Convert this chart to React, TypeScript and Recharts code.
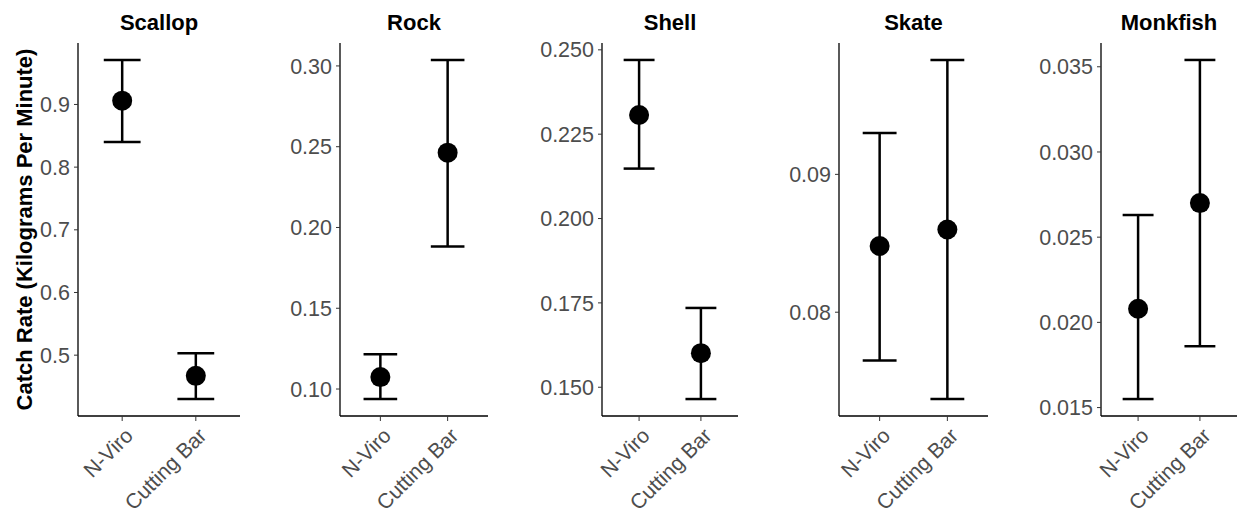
import React from 'react';
import { ScatterChart, Scatter, XAxis, YAxis, ErrorBar, Label } from 'recharts';

const treatments = ['N-Viro', 'Cutting Bar'];
const speciesNames = ['Scallop', 'Rock', 'Shell', 'Skate', 'Monkfish'];

// mean catch rate and interval ends, per treatment (N-Viro, Cutting Bar)
const scallopMean = [0.906, 0.467];
const scallopLower = [0.84, 0.43];
const scallopUpper = [0.971, 0.503];

const rockMean = [0.1074, 0.2463];
const rockLower = [0.0938, 0.1883];
const rockUpper = [0.1216, 0.3037];

const shellMean = [0.2307, 0.1601];
const shellLower = [0.2148, 0.1465];
const shellUpper = [0.247, 0.1735];

const skateMean = [0.0848, 0.086];
const skateLower = [0.0765, 0.0737];
const skateUpper = [0.093, 0.0983];

const monkfishMean = [0.0208, 0.027];
const monkfishLower = [0.0155, 0.0186];
const monkfishUpper = [0.0263, 0.0354];

const scallopTicks = [0.5, 0.6, 0.7, 0.8, 0.9];
const rockTicks = [0.1, 0.15, 0.2, 0.25, 0.3];
const shellTicks = [0.15, 0.175, 0.2, 0.225, 0.25];
const skateTicks = [0.08, 0.09];
const monkfishTicks = [0.015, 0.02, 0.025, 0.03, 0.035];

const seriesBySpecies = [
  { mean: scallopMean, lower: scallopLower, upper: scallopUpper, ticks: scallopTicks, digits: 1 },
  { mean: rockMean, lower: rockLower, upper: rockUpper, ticks: rockTicks, digits: 2 },
  { mean: shellMean, lower: shellLower, upper: shellUpper, ticks: shellTicks, digits: 3 },
  { mean: skateMean, lower: skateLower, upper: skateUpper, ticks: skateTicks, digits: 2 },
  { mean: monkfishMean, lower: monkfishLower, upper: monkfishUpper, ticks: monkfishTicks, digits: 3 },
];

// panel placement in the 1238x519 frame
const panels = [
  { left: 0, width: 250, axisX: 78, plotEnd: 240 },
  { left: 250, width: 250, axisX: 340, plotEnd: 488 },
  { left: 500, width: 250, axisX: 602, plotEnd: 738 },
  { left: 750, width: 250, axisX: 839, plotEnd: 988 },
  { left: 1000, width: 238, axisX: 1101, plotEnd: 1237 },
];

const HEIGHT = 519;
const PLOT_TOP = 43;
const PLOT_BOTTOM = 416;
const FONT = '"Liberation Sans", Arial, sans-serif';
const TEXT_GREY = '#4d4d4d';

const XTick = (props: any) => {
  const { x, y, payload } = props;
  const ax = x + 12;
  const ay = y + 14;
  return (
    <text
      x={ax}
      y={ay}
      transform={`rotate(-45 ${ax} ${ay})`}
      textAnchor="end"
      fontSize={21}
      fontFamily={FONT}
      fill={TEXT_GREY}
    >
      {treatments[payload.value - 1]}
    </text>
  );
};

function Panel({ idx }: { idx: number }) {
  const p = panels[idx];
  const s = seriesBySpecies[idx];
  const data = treatments.map((_, i) => ({
    pos: i + 1,
    mean: s.mean[i],
    err: [s.mean[i] - s.lower[i], s.upper[i] - s.mean[i]],
  }));
  const lo = Math.min(...s.lower);
  const hi = Math.max(...s.upper);
  const pad = (hi - lo) * 0.05;

  const plotW = p.plotEnd - p.axisX;
  const unit = plotW / 2.2;

  return (
    <div style={{ position: 'absolute', left: p.left, top: 0, width: p.width, height: HEIGHT }}>
      <div
        style={{
          position: 'absolute',
          left: p.axisX - p.left,
          width: plotW,
          top: 12,
          textAlign: 'center',
          fontFamily: FONT,
          fontWeight: 'bold',
          fontSize: 22,
          lineHeight: '22px',
          color: '#000',
        }}
      >
        {speciesNames[idx]}
      </div>
      <ScatterChart
        width={p.width}
        height={HEIGHT}
        margin={{ top: PLOT_TOP, right: p.left + p.width - p.plotEnd, bottom: 0, left: 0 }}
      >
        <XAxis
          type="number"
          dataKey="pos"
          domain={[0.4, 2.6]}
          ticks={[1, 2]}
          allowDataOverflow
          height={HEIGHT - PLOT_BOTTOM}
          tick={<XTick />}
          tickSize={5}
          tickMargin={2}
          axisLine={{ stroke: '#000', strokeWidth: 1.3 }}
          tickLine={{ stroke: '#333' }}
        />
        <YAxis
          type="number"
          dataKey="mean"
          domain={[lo - pad, hi + pad]}
          ticks={s.ticks}
          allowDataOverflow
          width={p.axisX - p.left}
          tickFormatter={(v: number) => v.toFixed(s.digits)}
          tick={{ fill: TEXT_GREY, fontSize: 21.5, fontFamily: FONT }}
          tickSize={4}
          tickMargin={4}
          axisLine={{ stroke: '#000', strokeWidth: 1.3 }}
          tickLine={{ stroke: '#333' }}
        >
          {idx === 0 && (
            <Label
              value="Catch Rate (Kilograms Per Minute)"
              angle={-90}
              position="center"
              dx={-15}
              style={{ fontFamily: FONT, fontWeight: 'bold', fontSize: 22, fill: '#000' }}
            />
          )}
        </YAxis>
        <Scatter
          data={data}
          isAnimationActive={false}
          shape={(sp: any) => <circle cx={sp.cx} cy={sp.cy} r={10} fill="#000" />}
        >
          <ErrorBar
            dataKey="err"
            direction="y"
            width={unit * 0.25}
            stroke="#000"
            strokeWidth={2.5}
            isAnimationActive={false}
          />
        </Scatter>
      </ScatterChart>
    </div>
  );
}

export default function App() {
  return (
    <div
      style={{
        position: 'absolute',
        left: 0,
        top: 0,
        width: 1238,
        height: HEIGHT,
        background: '#fff',
        overflow: 'hidden',
      }}
    >
      {panels.map((_, i) => (
        <Panel key={i} idx={i} />
      ))}
    </div>
  );
}
